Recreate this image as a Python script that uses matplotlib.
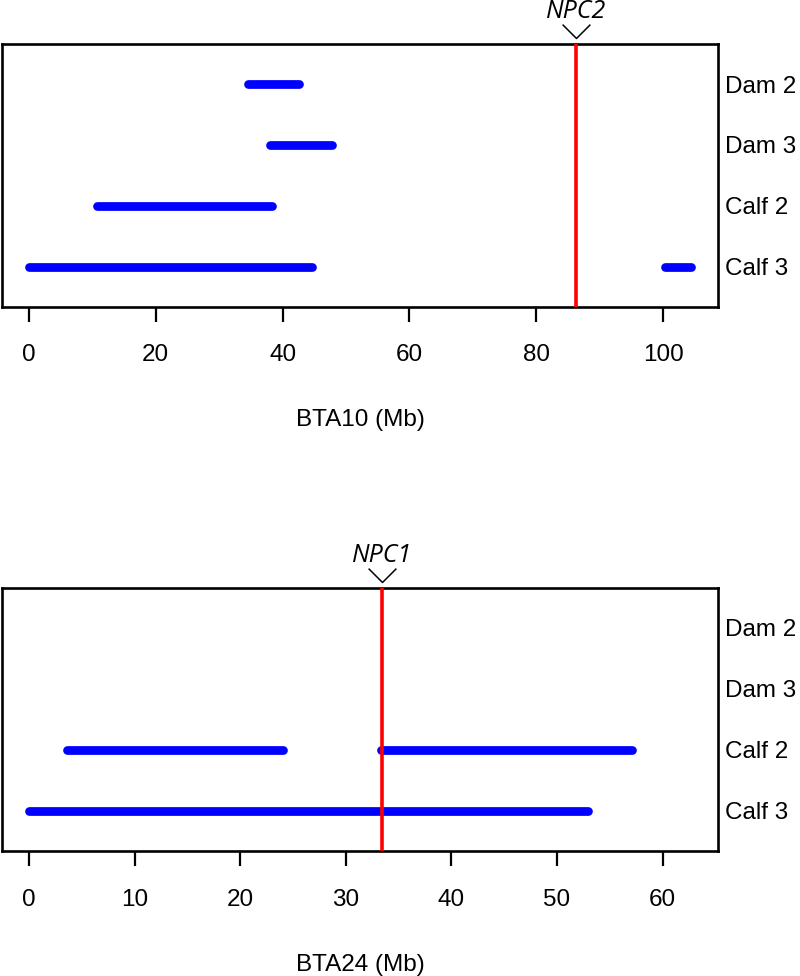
import matplotlib
matplotlib.use("Agg")
import matplotlib.pyplot as plt
from matplotlib.path import Path

plt.rcParams['font.family'] = ['Liberation Sans', 'DejaVu Sans']

rows = ["Dam 2", "Dam 3", "Calf 2", "Calf 3"]
row_y = [4, 3, 2, 1]

# BTA10 segments: (row, start, end) in Mb
bta10_rows = ["Dam 2", "Dam 3", "Calf 2", "Calf 3", "Calf 3"]
bta10_start = [34.6, 38.0, 10.8, 0.0, 100.3]
bta10_end = [42.6, 47.8, 38.4, 44.6, 104.4]
bta10_gene = "NPC2"
bta10_gene_pos = 86.2
bta10_xlim = (0.0, 104.4)
bta10_ticks = [0, 20, 40, 60, 80, 100]

# BTA24 segments
bta24_rows = ["Calf 2", "Calf 2", "Calf 3"]
bta24_start = [3.6, 33.3, 0.0]
bta24_end = [24.1, 57.1, 52.9]
bta24_gene = "NPC1"
bta24_gene_pos = 33.4
bta24_xlim = (0.0, 62.7)
bta24_ticks = [0, 10, 20, 30, 40, 50, 60]

chevron = Path([(-1, 1), (0, 0), (1, 1)], [Path.MOVETO, Path.LINETO, Path.LINETO])

fig = plt.figure(figsize=(8, 9.76), dpi=100)
ax1 = fig.add_axes([0.003, 0.6858, 0.894, 0.2692])
ax2 = fig.add_axes([0.003, 0.128, 0.894, 0.270])


def panel(ax, seg_rows, starts, ends, gene, gpos, xr, ticks, xlabel):
    ymap = dict(zip(rows, row_y))
    for r, s, e in zip(seg_rows, starts, ends):
        y = ymap[r]
        ax.plot([s, e], [y, y], color='#0000FF', lw=6.3, solid_capstyle='round', zorder=2)
    ax.axvline(gpos, color='#FF0000', lw=2.6, zorder=3)
    ext = 0.04 * (xr[1] - xr[0])
    ax.set_xlim(xr[0] - ext, xr[1] + ext)
    ax.set_ylim(0.34, 4.66)
    ax.set_xticks(ticks)
    ax.set_xticklabels([str(t) for t in ticks])
    ax.yaxis.tick_right()
    ax.set_yticks(row_y)
    ax.set_yticklabels(rows)
    ax.tick_params(axis='y', length=0, pad=5, labelsize=17.5)
    ax.tick_params(axis='x', length=11, width=1.6, pad=16, labelsize=17.5)
    for sp in ax.spines.values():
        sp.set_linewidth(1.9)
    ax.set_xlabel(xlabel, fontsize=17.5, labelpad=31)
    tr = ax.get_xaxis_transform()
    ax.plot([gpos], [1.022], marker=chevron, markersize=20, markerfacecolor='none',
            markeredgecolor='black', markeredgewidth=1.1, transform=tr, clip_on=False)
    ax.text(gpos, 1.097, gene, transform=tr, ha='center', va='baseline',
            fontsize=18, style='italic', family=['Open Sans', 'DejaVu Sans'])


panel(ax1, bta10_rows, bta10_start, bta10_end, bta10_gene, bta10_gene_pos,
      bta10_xlim, bta10_ticks, "BTA10 (Mb)")
panel(ax2, bta24_rows, bta24_start, bta24_end, bta24_gene, bta24_gene_pos,
      bta24_xlim, bta24_ticks, "BTA24 (Mb)")

fig.savefig("out.png", dpi=100)
